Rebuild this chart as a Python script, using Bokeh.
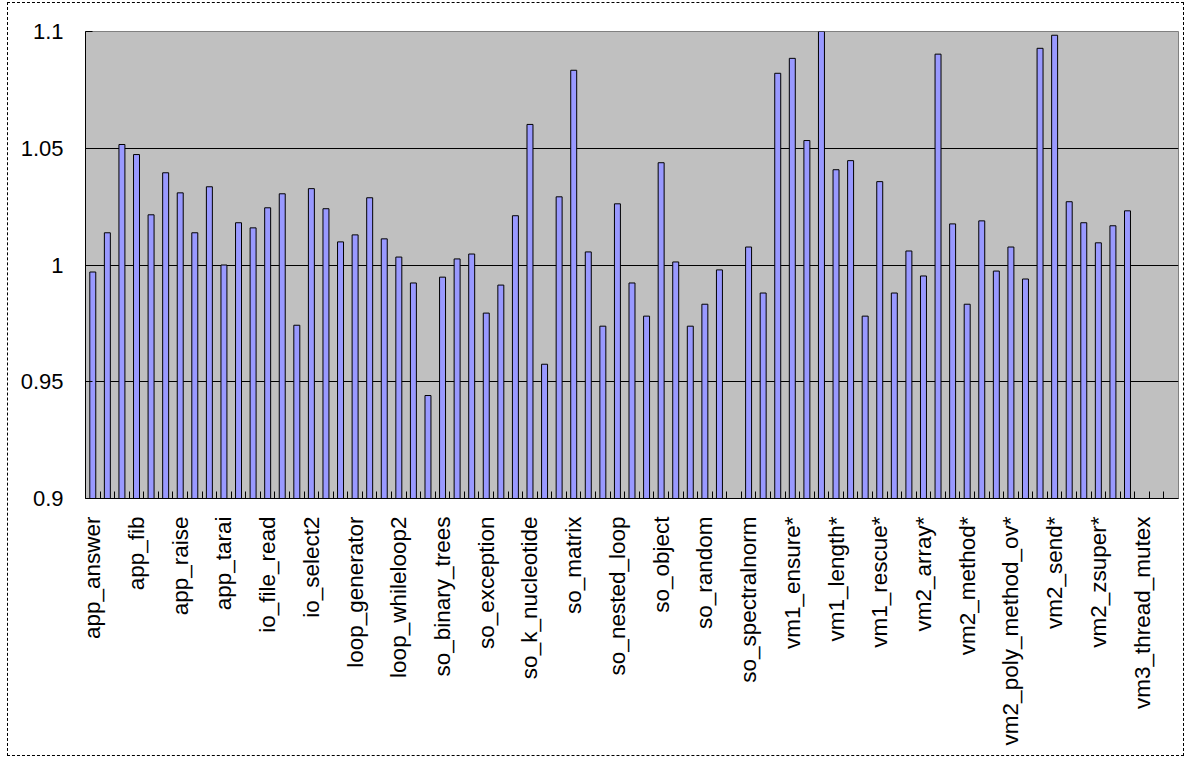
import math
from bokeh.plotting import figure
from bokeh.models import ColumnDataSource, Range1d, FixedTicker, CustomJSTickFormatter
from bokeh.embed import file_html
from bokeh.resources import INLINE

names = [
    "app_answer", "app_erb", "app_factorial", "app_fib", "app_mandelbrot", "app_pentomino",
    "app_raise", "app_strconcat", "app_tak", "app_tarai", "app_uri", "io_file_create",
    "io_file_read", "io_file_write", "io_select", "io_select2", "io_select3", "loop_for",
    "loop_generator", "loop_times", "loop_whileloop", "loop_whileloop2", "so_ackermann", "so_array",
    "so_binary_trees", "so_concatenate", "so_count_words", "so_exception", "so_fannkuch", "so_fasta",
    "so_k_nucleotide", "so_lists", "so_mandelbrot", "so_matrix", "so_meteor_contest", "so_nbody",
    "so_nested_loop", "so_nsieve", "so_nsieve_bits", "so_object", "so_partial_sums", "so_pidigits",
    "so_random", "so_reverse_complement", "so_sieve", "so_spectralnorm", "vm1_block*", "vm1_const*",
    "vm1_ensure*", "vm1_ivar*", "vm1_ivar_set*", "vm1_length*", "vm1_neq*", "vm1_not*",
    "vm1_rescue*", "vm1_simplereturn*", "vm1_swap*", "vm2_array*", "vm2_case*", "vm2_eval*",
    "vm2_method*", "vm2_mutex*", "vm2_poly_method*", "vm2_poly_method_ov*", "vm2_proc*", "vm2_regexp*",
    "vm2_send*", "vm2_super*", "vm2_unif1*", "vm2_zsuper*", "vm3_gc", "vm3_thread_create_join",
    "vm3_thread_mutex",
]

ratios = [
    0.9970, 1.0138, 1.0516, 1.0473, 1.0215, 1.0395,
    1.0309, 1.0138, 1.0335, 1.0000, 1.0181, 1.0159,
    1.0245, 1.0305, 0.9742, 1.0327, 1.0241, 1.0099,
    1.0129, 1.0288, 1.0112, 1.0034, 0.9923, 0.9441,
    0.9948, 1.0026, 1.0047, 0.9794, 0.9914, 1.0211,
    1.0602, 0.9575, 1.0292, 1.0834, 1.0056, 0.9738,
    1.0262, 0.9923, 0.9781, 1.0438, 1.0013, 0.9738,
    0.9832, 0.9979, None, 1.0077, 0.9880, 1.0821,
    1.0885, 1.0533, 1.1011, 1.0408, 1.0447, 0.9781,
    1.0357, 0.9880, 1.0060, 0.9953, 1.0903, 1.0176,
    0.9832, 1.0189, 0.9974, 1.0077, 0.9940, 1.0928,
    1.0984, 1.0271, 1.0181, 1.0095, 1.0168, 1.0232,
    None,
]

y_ticks = [0.9, 0.95, 1.0, 1.05, 1.1]
grid_ticks = [0.95, 1.0, 1.05]

N_SLOTS = 75
LABEL_STEP = 3

xs = [i + 0.5 for i, v in enumerate(ratios) if v is not None]
tops = [v for v in ratios if v is not None]
src = ColumnDataSource(dict(x=xs, top=tops))

p = figure(width=1177, height=754, output_backend="svg", toolbar_location=None,
           x_range=Range1d(0, N_SLOTS), y_range=Range1d(y_ticks[0], y_ticks[-1]),
           min_border_left=77, min_border_right=7, min_border_top=28, min_border_bottom=259)
p.styles = {"border": "1px dashed black", "margin-left": "7px", "margin-top": "2px"}
p.border_fill_color = "white"
p.background_fill_color = "#C0C0C0"
p.outline_line_color = "#808080"
p.outline_line_width = 1

p.vbar(x="x", top="top", bottom=y_ticks[0], width=0.41, source=src,
       fill_color="#9999FF", line_color="black", line_width=1)

# y axis
ya = p.yaxis[0]
ya.ticker = FixedTicker(ticks=y_ticks)
ya.formatter = CustomJSTickFormatter(code="return String(Math.round(tick*100)/100);")
ya.axis_line_color = "black"
ya.major_tick_in = 7
ya.major_tick_out = 0
ya.minor_tick_line_color = None
ya.major_label_standoff = 22
ya.major_label_text_font = "Liberation Sans"
ya.major_label_text_font_size = "22px"
ya.major_label_text_color = "black"

# x axis
xa = p.xaxis[0]
xa.ticker = FixedTicker(ticks=[i + 0.5 for i in range(0, N_SLOTS, LABEL_STEP)],
                        minor_ticks=list(range(1, N_SLOTS)))
xa.formatter = CustomJSTickFormatter(args=dict(names=names),
                                     code="const i = Math.floor(tick); return i < names.length ? names[i] : '';")
xa.major_label_orientation = math.pi / 2
xa.axis_line_color = "black"
xa.major_tick_in = 0
xa.major_tick_out = 0
xa.minor_tick_in = 7
xa.minor_tick_out = 0
xa.minor_tick_line_color = "black"
xa.major_label_standoff = 18
xa.major_label_text_font = "Liberation Sans"
xa.major_label_text_font_size = "22.5px"
xa.major_label_text_color = "black"

p.xgrid.grid_line_color = None
p.ygrid.ticker = FixedTicker(ticks=grid_ticks)
p.ygrid.grid_line_color = "black"
p.ygrid.grid_line_width = 1

open("out.html", "w").write(file_html(p, INLINE))
